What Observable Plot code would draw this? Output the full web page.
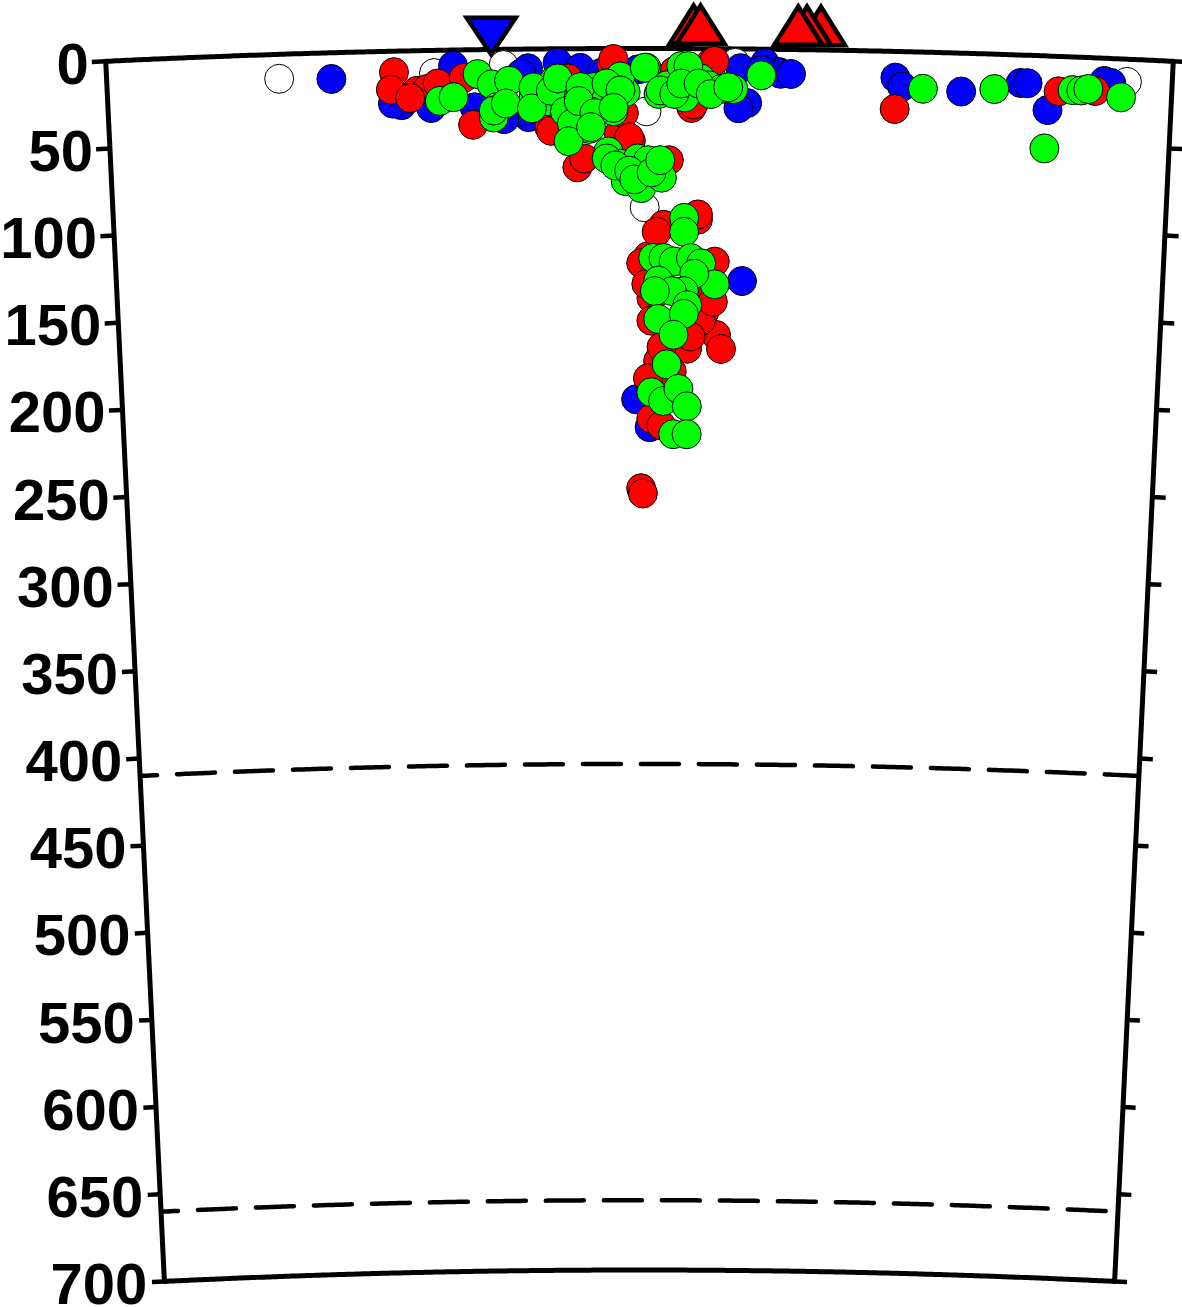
<!DOCTYPE html>
<html><head><meta charset="utf-8">
<script src="https://cdn.jsdelivr.net/npm/d3@7"></script>
<script src="https://cdn.jsdelivr.net/npm/@observablehq/plot@0.6"></script>
<style>html,body{margin:0;padding:0;background:#fff;}svg{display:block;}</style>
</head><body><div id="chart"></div>
<script>
// ---- data: [distance along section (km), depth (km)] ----
const depthTicks = [0,50,100,150,200,250,300,350,400,450,500,550,600,650,700];
const discontinuities = [410, 660];
const sectionStart = 4, sectionEnd = 616;

const whiteEvents = [[103,14],[192,13],[232,9],[314,36],[313,91],[365,8],[590,13]];

const blueEvents = [[133,15],[203,9],[173,31],[168,30],[190,33],[215,33],[246,11],[263,8],[246,39],[240,36],[232,40],
  [276,11],[309,12],[368,11],[382,8],[390,13],[391,14],[397,14],[288,14],[345,13],[242,14],[380,12],[372,31],[367,34],
  [457,15],[461,20],[495,22],[529,16],[533,16],[545,31],[577,13],[581,14],[370,133],[308,201],[316,217]];

const redEvents = [[169,12],[167,22],[182,23],[188,22],[178,27],[194,19],[209,16],[214,43],[258,45],[269,17],[294,9],
  [298,49],[330,13],[340,34],[351,8],[353,7],[295,6],[259,47],[274,68],[278,63],[305,53],[301,37],[304,51],[327,64],
  [341,32],[457,33],[551,20],[572,19],
  [324,101],[344,98],[344,95],[315,119],[354,122],[317,143],[348,151],[317,156],[355,164],[358,172],[338,172],[321,179],
  [329,185],[315,189],[317,212],[323,216],[311,252],[312,255],[320,105],[311,123],[314,135],[346,156],[340,165],
  [323,171],[343,139],[353,145]];

const greenEvents = [[195,29],[203,27],[217,14],[225,20],[235,18],[228,33],[226,39],[249,28],[257,30],[261,18],[269,34],
  [274,28],[275,40],[284,22],[282,36],[281,46],[295,36],[292,20],[302,25],[299,16],[314,11],[321,26],[326,21],[334,10],
  [337,20],[345,17],[336,28],[350,21],[357,23],[364,23],[380,15],
  [226,35],[233,31],[249,22],[248,34],[259,24],[263,17],[267,36],[271,43],[269,53],[276,22],[275,30],[284,37],[282,45],
  [291,20],[299,24],[295,34],[292,59],[299,66],[302,76],[309,63],[311,80],[315,64],[323,74],[313,11],[322,24],[330,26],
  [338,10],[334,20],[344,20],[351,26],[361,22],[291,63],[296,67],[304,70],[307,75],[317,71],[322,64],
  [473,21],[514,20],[559,19],[564,19],[568,18],[587,22],[544,53],
  [336,97],[336,105],[318,120],[324,120],[330,122],[340,120],[346,123],[354,135],[342,129],[336,139],[321,133],
  [329,139],[319,139],[338,147],[321,155],[336,152],[330,164],[326,181],[317,197],[324,202],[333,195],[338,205],
  [330,221],[338,221]];

const volcanoes = [341, 345, 414, 406, 401];
const trenchMarkers = [225];

// ---- spherical cross-section projection (distance, depth) -> page ----
const R = 6371, K = 1.745, CX = 639, TOP = 48, MID = 310;
const section = d3.geoTransform({
  point(dist, depth) {
    const a = (dist - MID) / R, r = (R - depth) * K;
    this.stream.point(CX + r * Math.sin(a), TOP + R * K - r * Math.cos(a));
  }
});

const ev = arr => arr.map(([dist, depth]) => ({dist, depth}));
const distSteps = [...d3.range(sectionStart, sectionEnd, 2), sectionEnd];
const depthSteps = [...d3.range(0, 700, 10), 700];
const along = depth => distSteps.map(dist => ({dist, depth}));
const frame = [
  ...along(0),
  ...depthSteps.map(depth => ({dist: sectionEnd, depth})),
  ...along(700).reverse(),
  ...depthSteps.slice().reverse().map(depth => ({dist: sectionStart, depth}))
];
const dashes = discontinuities.flatMap(d => along(d).map(p => ({...p, level: d})));

const volcanoSymbol = {draw(ctx, size) { const r = Math.sqrt(size / Math.PI);
  ctx.moveTo(-r, -0.2 * r); ctx.lineTo(0, -1.8 * r); ctx.lineTo(r, -0.2 * r); ctx.closePath(); }};
const trenchSymbol = {draw(ctx, size) { const r = Math.sqrt(size / Math.PI);
  ctx.moveTo(-r, -1.3 * r); ctx.lineTo(r, -1.3 * r); ctx.lineTo(0, 0.2 * r); ctx.closePath(); }};

const font = "'Liberation Sans', Arial, Helvetica, sans-serif";
const dotOpts = {x: "dist", y: "depth", r: 14.5, stroke: "black", strokeWidth: 1};

const chart = Plot.plot({
  width: 1182, height: 1307, margin: 0,
  projection: section,
  style: {background: "white"},
  marks: [
    Plot.line(dashes, {x: "dist", y: "depth", z: "level", curve: "linear", stroke: "black", strokeWidth: 4.5,
      strokeDasharray: "38,20", strokeDashoffset: 21}),
    Plot.link(depthTicks, {x1: () => sectionStart, x2: () => sectionStart - 8, y1: d => d, y2: d => d,
      curve: "linear", stroke: "black", strokeWidth: 4.5}),
    Plot.link(depthTicks, {x1: () => sectionEnd, x2: () => sectionEnd + 8, y1: d => d, y2: d => d,
      curve: "linear", stroke: "black", strokeWidth: 4.5}),
    Plot.line(frame, {x: "dist", y: "depth", curve: "linear", stroke: "black", strokeWidth: 5}),
    Plot.text(depthTicks, {x: () => sectionStart, y: d => d, text: d => String(d), dx: -17, dy: 4, textAnchor: "end",
      fontSize: 58, fontWeight: "bold", fontFamily: font, fill: "black"}),
    Plot.dot(ev(whiteEvents), {...dotOpts, fill: "white"}),
    Plot.dot(ev(blueEvents), {...dotOpts, fill: "#0000ff"}),
    Plot.dot(ev(redEvents), {...dotOpts, fill: "#ff0000"}),
    Plot.dot(ev(greenEvents), {...dotOpts, fill: "#00ff00"}),
    Plot.dot(trenchMarkers, {x: d => d, y: () => 0, symbol: trenchSymbol, r: 24.5, fill: "#0000ff", stroke: "black", strokeWidth: 4.5}),
    Plot.dot(volcanoes, {x: d => d, y: () => 0, symbol: volcanoSymbol, r: 24, fill: "#ff0000", stroke: "black", strokeWidth: 4.5})
  ]
});
document.getElementById("chart").appendChild(chart);
</script>
</body></html>
